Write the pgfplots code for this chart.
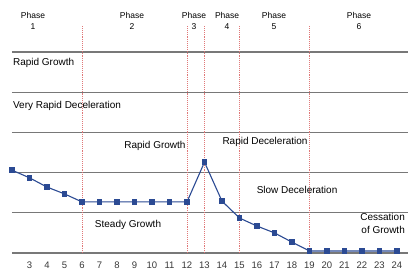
\documentclass[border=0pt]{standalone}
\usepackage{pgfplots}
\pgfplotsset{compat=1.18}
\usepackage{fontspec}
\setmainfont{Liberation Sans}
\definecolor{navy}{HTML}{2B4A93}
\definecolor{gridc}{HTML}{787878}
\definecolor{dotred}{HTML}{E07878}
\definecolor{txt}{HTML}{383838}
\begin{document}
\begin{tikzpicture}
\begin{axis}[
  at={(0,0)}, anchor=south west, scale only axis,
  width=396pt, height=228pt,
  xmin=2, xmax=24.63, ymin=0, ymax=5.67,
  axis line style={draw=none},
  xtick={3,...,24}, ytick={0,...,5}, yticklabels={},
  ymajorgrids, grid style={gridc, line width=1.3pt},
  major tick length=0pt,
  xticklabel style={font=\fontsize{9.5}{11}\selectfont, text=txt, yshift=-5pt},
  /pgf/number format/assume math mode=true,
  clip=false,
  every node/.append style={text=txt},
]
% phase boundaries
\addplot[dotred, densely dotted, line width=0.9pt] coordinates {(6,0) (6,5.67)};
\addplot[dotred, densely dotted, line width=0.9pt] coordinates {(12,0) (12,5.67)};
\addplot[dotred, densely dotted, line width=0.9pt] coordinates {(13,0) (13,5.67)};
\addplot[dotred, densely dotted, line width=0.9pt] coordinates {(15,0) (15,5.67)};
\addplot[dotred, densely dotted, line width=0.9pt] coordinates {(19,0) (19,5.67)};
% data
\addplot[navy, line width=1.1pt, mark=square*, mark size=2.2pt, mark options={fill=navy, draw=navy}]
coordinates {
(2,2.06) (3,1.87) (4,1.64) (5,1.47) (6,1.27) (7,1.27) (8,1.27) (9,1.27) (10,1.27)
(11,1.27) (12,1.27) (13,2.26) (14,1.29) (15,0.87) (16,0.67) (17,0.50) (18,0.27)
(19,0.05) (20,0.05) (21,0.05) (22,0.05) (23,0.05) (24,0.05)
};
% phase labels
\tikzset{phase/.style={font=\fontsize{8.5}{11}\selectfont, align=center, inner sep=0pt}}
\node[phase] at (axis cs:3.2,5.76) {Phase\\1};
\node[phase] at (axis cs:8.86,5.76) {Phase\\2};
\node[phase] at (axis cs:12.4,5.76) {Phase\\3};
\node[phase] at (axis cs:14.29,5.76) {Phase\\4};
\node[phase] at (axis cs:16.97,5.76) {Phase\\5};
\node[phase] at (axis cs:21.83,5.76) {Phase\\6};
% region labels
\tikzset{reg/.style={font=\fontsize{10}{12}\selectfont, inner sep=0pt}}
\node[reg, anchor=west] at (axis cs:2.05,4.73) {Rapid Growth};
\node[reg, anchor=west] at (axis cs:2.05,3.66) {Very Rapid Deceleration};
\node[reg] at (axis cs:10.17,2.66) {Rapid Growth};
\node[reg] at (axis cs:16.46,2.76) {Rapid Deceleration};
\node[reg] at (axis cs:18.29,1.57) {Slow Deceleration};
\node[reg] at (axis cs:8.63,0.70) {Steady Growth};
\node[reg, anchor=east, align=right, font=\fontsize{10}{13}\selectfont] at (axis cs:24.46,0.73) {Cessation\\of Growth};
\end{axis}
\pgfresetboundingbox
\path[use as bounding box] (-12pt,-26pt) rectangle (397pt,253pt);
\end{tikzpicture}
\end{document}
